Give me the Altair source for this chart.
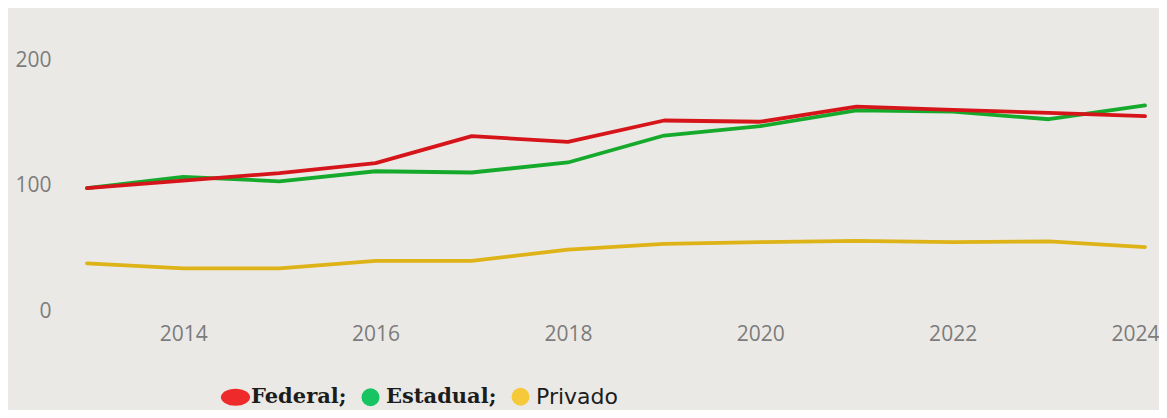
import altair as alt
import pandas as pd

years = list(range(2013, 2025))
federal = [98, 104, 110, 118, 139.5, 135, 152, 151, 163, 160.5, 158, 155.5]
estadual = [98, 107, 103.5, 111.5, 110.5, 118.5, 140, 147.5, 160, 159, 153, 164]
privado = [38, 34, 34, 40, 40, 49, 53.5, 55, 56, 55, 55.5, 51]
series = ["Federal", "Estadual", "Privado"]
line_colors = ["#d6151b", "#15aa2c", "#ddb317"]
x_ticks = [2014, 2016, 2018, 2020, 2022, 2024]
y_ticks = [0, 100, 200]

rows = []
for name, vals in zip(series, [federal, estadual, privado]):
    for y, v in zip(years, vals):
        rows.append({"ano": y, "valor": v, "rede": name})
df = pd.DataFrame(rows)

ellipse = "M-1.62,0A1.62,0.95,0,1,1,1.62,0A1.62,0.95,0,1,1,-1.62,0Z"

legend = alt.Legend(
    orient="none", legendX=138, legendY=357, direction="horizontal", title=None,
    labelColor="#1c1c1c", labelOffset=5, columnPadding=13,
    symbolStrokeWidth=0, symbolOpacity=1, symbolSize=324,
    symbolType=alt.ExprRef(expr=f"datum.value == 'Federal' ? '{ellipse}' : 'circle'"),
    symbolFillColor=alt.ExprRef(
        expr="datum.value == 'Federal' ? '#ee2a2a' : datum.value == 'Estadual' ? '#17c462' : '#f5c93a'"),
    labelExpr="datum.label == 'Privado' ? datum.label : datum.label + ';'",
    labelFont=alt.ExprRef(expr="datum.label == 'Privado' ? 'DejaVu Sans' : 'DejaVu Serif'"),
    labelFontWeight=alt.ExprRef(expr="datum.label == 'Privado' ? 'normal' : 'bold'"),
    labelFontSize=alt.ExprRef(expr="datum.label == 'Privado' ? 22 : 21"),
)

base = alt.Chart(df).mark_line(strokeWidth=3.8, strokeCap="round", strokeJoin="round").encode(
    x=alt.X("ano:Q", scale=alt.Scale(domain=[2013, 2024], nice=False),
            axis=alt.Axis(values=x_ticks, format="d", title=None, labelPadding=12,
                          labelFlush=True, labelFlushOffset=14)),
    y=alt.Y("valor:Q", scale=alt.Scale(domain=[0, 225], nice=False),
            axis=alt.Axis(values=y_ticks, title=None, labelPadding=36)),
    color=alt.Color("rede:N", scale=alt.Scale(domain=series, range=line_colors), legend=legend),
)

layers = [base.transform_filter(alt.datum.rede == s) for s in ["Privado", "Estadual", "Federal"]]

chart = alt.layer(*layers).properties(
    width=1058, height=282,
    autosize=alt.AutoSizeParams(type="none"),
    padding={"left": 79, "top": 21, "right": 14, "bottom": 99},
    background="#ebe9e6",
).configure_view(stroke=None).configure_axis(
    grid=False, domain=False, ticks=False,
    labelFont="Open Sans", labelFontSize=21, labelColor="#7c7c7c",
)

chart.save("out.html", embed_options={"renderer": "svg", "actions": False})
